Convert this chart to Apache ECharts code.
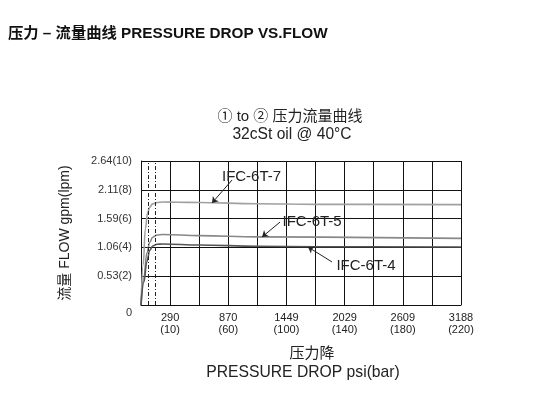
<!DOCTYPE html>
<html>
<head>
<meta charset="utf-8">
<script src="https://cdn.jsdelivr.net/npm/echarts@6/dist/echarts.min.js"></script>
<style>
  html, body { margin: 0; padding: 0; background: #fff; }
  #chart { width: 536px; height: 397px; }
</style>
</head>
<body>
<div id="chart"></div>
<script>
// 压力降 (bar) / 流量 (lpm)
const pressure7 = [0, 1.5, 3, 4.5, 6, 8, 11, 15, 25, 40, 80, 120, 220]
const flow7 = [0, 2.8, 5.3, 6.4, 6.8, 7.02, 7.12, 7.15, 7.14, 7.12, 7.03, 6.99, 6.97]
const pressure5 = [0, 2, 4, 6, 8, 11, 15, 40, 80, 220]
const flow5 = [0, 1.9, 3.6, 4.35, 4.7, 4.86, 4.9, 4.82, 4.73, 4.63]
const pressure4 = [0, 2, 4, 6, 8, 11, 15, 40, 80, 120, 220]
const flow4 = [0, 1.6, 3.0, 3.8, 4.1, 4.22, 4.24, 4.17, 4.08, 4.05, 4.03]

// 刻度
const xTickBar = [20, 60, 100, 140, 180, 220]
const xTickPsi = ['290', '870', '1449', '2029', '2609', '3188']
const xTickBarText = ['(10)', '(60)', '(100)', '(140)', '(180)', '(220)']
const yTickLpm = [0, 2, 4, 6, 8, 10]
const yTickText = ['0', '0.53(2)', '1.06(4)', '1.59(6)', '2.11(8)', '2.64(10)']
const dashX = [5, 10]

// 型号标注
const tagNames = ['IFC-6T-7', 'IFC-6T-5', 'IFC-6T-4']
const tagAt = [[76, 8.9], [117.6, 5.76], [154.7, 2.71]]
const arrowFrom = [[62.6, 8.68], [95.6, 5.76], [131.3, 2.99]]
const arrowTo = [[48.8, 7.08], [83.2, 4.72], [114.8, 4.03]]

const FONT = '"Liberation Sans", "Noto Sans CJK SC", sans-serif'
const zip = (xs, ys) => xs.map((x, i) => [x, ys[i]])

function makeSeries(i, data, color) {
  return {
    name: tagNames[i],
    type: 'line',
    data: data,
    smooth: 0.4,
    smoothMonotone: 'x',
    showSymbol: false,
    lineStyle: { color: color, width: 1.6 },
    markPoint: {
      symbol: 'rect',
      symbolSize: 1,
      itemStyle: { color: 'transparent' },
      label: {
        show: true,
        position: 'inside',
        formatter: tagNames[i],
        fontSize: 15,
        fontFamily: FONT,
        color: '#222'
      },
      data: [{ coord: tagAt[i] }]
    },
    markLine: {
      silent: true,
      symbol: ['none', 'arrow'],
      symbolSize: 6,
      label: { show: false },
      lineStyle: { color: '#222', width: 1, type: 'solid' },
      data: [[{ coord: arrowFrom[i] }, { coord: arrowTo[i] }]]
    }
  }
}

const myChart = echarts.init(document.getElementById('chart'))
const s7 = makeSeries(0, zip(pressure7, flow7), '#a0a0a0')
const s5 = makeSeries(1, zip(pressure5, flow5), '#888')
const s4 = makeSeries(2, zip(pressure4, flow4), '#555')
// 虚线
const dashSeries = {
  type: 'line',
  data: [],
  markLine: {
    silent: true,
    symbol: 'none',
    label: { show: false },
    lineStyle: { color: '#222', width: 1, type: [4, 2, 1, 2] },
    data: dashX.map(x => ({ xAxis: x }))
  }
}

const option = {
  animation: false,
  backgroundColor: '#fff',
  grid: { left: 141, right: 75, top: 161, bottom: 92 },
  xAxis: {
    type: 'value',
    min: 0,
    max: 220,
    interval: 20,
    axisLine: { show: true, lineStyle: { color: '#111', width: 1 } },
    axisTick: { show: false },
    splitLine: { show: true, lineStyle: { color: '#111', width: 1 } },
    axisLabel: {
      margin: 7,
      fontSize: 11,
      lineHeight: 12,
      fontFamily: FONT,
      color: '#222',
      formatter: v => {
        const k = xTickBar.indexOf(v)
        return k < 0 ? '' : xTickPsi[k] + '\n' + xTickBarText[k]
      }
    }
  },
  yAxis: {
    type: 'value',
    min: 0,
    max: 10,
    interval: 2,
    name: '流量 FLOW gpm(lpm)',
    nameLocation: 'middle',
    nameRotate: 90,
    nameGap: 69,
    nameTextStyle: { fontSize: 14, fontFamily: FONT, color: '#222' },
    axisLine: { show: true, lineStyle: { color: '#111', width: 1 } },
    axisTick: { show: false },
    splitLine: { show: true, lineStyle: { color: '#111', width: 1 } },
    axisLabel: {
      margin: 9,
      fontSize: 11,
      lineHeight: 16,
      fontFamily: FONT,
      color: '#333',
      formatter: v => {
        const k = yTickLpm.indexOf(v)
        if (k < 0) return ''
        return v === 0 ? '\n' + yTickText[k] : yTickText[k]
      }
    }
  },
  graphic: [
    {
      type: 'text', x: 8, y: 34,
      style: { text: '压力 – 流量曲线 PRESSURE DROP VS.FLOW', fontSize: 15.3, fontWeight: 'bold', fontFamily: FONT, fill: '#111', align: 'left', verticalAlign: 'middle' }
    },
    {
      type: 'text', x: 290, y: 117,
      style: { text: '① to ② 压力流量曲线', fontSize: 15, fontFamily: FONT, fill: '#222', align: 'center', verticalAlign: 'middle' }
    },
    {
      type: 'text', x: 292, y: 135,
      style: { text: '32cSt oil @ 40°C', fontSize: 15.6, fontFamily: FONT, fill: '#222', align: 'center', verticalAlign: 'middle' }
    },
    {
      type: 'text', x: 312, y: 354,
      style: { text: '压力降', fontSize: 15, fontFamily: FONT, fill: '#222', align: 'center', verticalAlign: 'middle' }
    },
    {
      type: 'text', x: 303, y: 373,
      style: { text: 'PRESSURE DROP psi(bar)', fontSize: 15.7, fontFamily: FONT, fill: '#222', align: 'center', verticalAlign: 'middle' }
    }
  ],
  series: [dashSeries, s7, s5, s4]
}
myChart.setOption(option)
</script>
</body>
</html>
